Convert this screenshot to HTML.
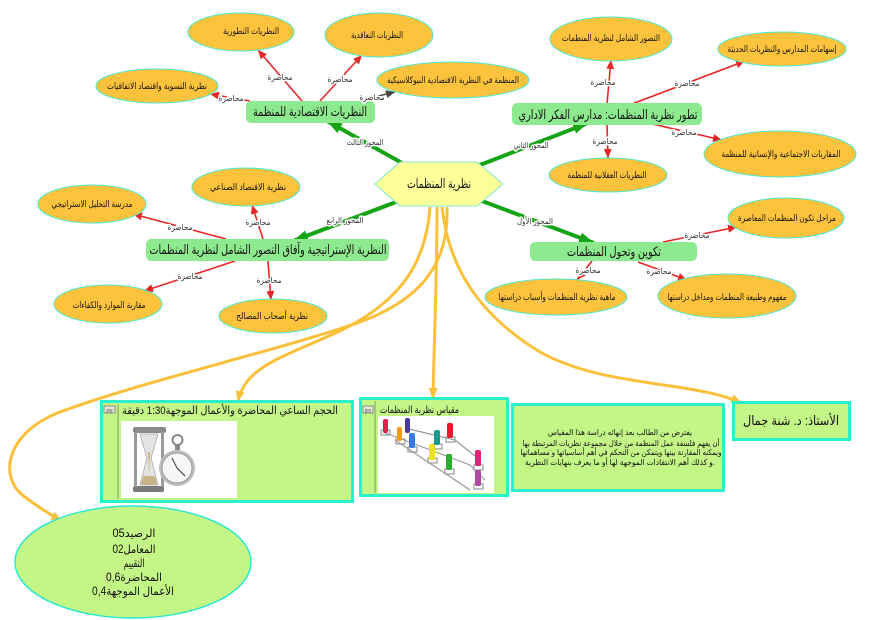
<!DOCTYPE html>
<html>
<head>
<meta charset="utf-8">
<style>
html,body{margin:0;padding:0;background:#fff;}
svg{display:block;}
text{font-family:"Liberation Sans","DejaVu Sans",sans-serif;}
.lbl{font-size:8px;fill:#333;stroke:#fff;stroke-width:3px;paint-order:stroke;stroke-linejoin:round;}
.ell{fill:#fdc33d;stroke:#4de8d0;stroke-width:1;}
.et{font-size:9px;fill:#111;}
.gb{fill:#8eea8e;}
.gt{font-size:13px;fill:#111;}
.red{stroke:#e82525;stroke-width:1.6;fill:none;}
.grn{stroke:#16a316;stroke-width:4;fill:none;}
.org{stroke:#fbc03a;stroke-width:3;fill:none;}
.bx{fill:#c3f587;stroke:#2cf0cc;stroke-width:3;}
</style>
</head>
<body>
<svg width="886" height="620" viewBox="0 0 886 620" xmlns="http://www.w3.org/2000/svg">
<defs>
<marker id="mr" markerUnits="userSpaceOnUse" markerWidth="9" markerHeight="8" refX="9" refY="4" orient="auto"><path d="M0,0 L9,4 L0,8 z" fill="#e82525"/></marker>
<marker id="md" markerUnits="userSpaceOnUse" markerWidth="9" markerHeight="8" refX="9" refY="4" orient="auto"><path d="M0,0 L9,4 L0,8 z" fill="#444"/></marker>
<marker id="mg" markerUnits="userSpaceOnUse" markerWidth="15" markerHeight="11" refX="15" refY="5.5" orient="auto"><path d="M0,0 L15,5.5 L0,11 z" fill="#16a316"/></marker>
<marker id="mo" markerUnits="userSpaceOnUse" markerWidth="11" markerHeight="9" refX="11" refY="4.5" orient="auto"><path d="M0,0 L11,4.5 L0,9 z" fill="#fbc03a"/></marker>
</defs>

<!-- orange curves -->
<path class="org" d="M447,207 C449,260 425,298 360,322 C280,350 140,382 60,412 C5,433 -2,478 25,497 Q42,510 62,521" marker-end="url(#mo)"/>
<path class="org" d="M430,207 C426,262 402,300 342,330 C282,358 245,366 238,402" marker-end="url(#mo)"/>
<path class="org" d="M437,207 C437,280 434,340 433,399" marker-end="url(#mo)"/>
<path class="org" d="M442,207 C448,262 474,312 540,352 C605,388 690,380 742,403" marker-end="url(#mo)"/>

<!-- green arrows -->
<line class="grn" x1="402" y1="163" x2="327" y2="121" marker-end="url(#mg)"/>
<line class="grn" x1="480" y1="165" x2="588" y2="123" marker-end="url(#mg)"/>
<line class="grn" x1="396" y1="202" x2="293" y2="241" marker-end="url(#mg)"/>
<line class="grn" x1="482" y1="201" x2="594" y2="243" marker-end="url(#mg)"/>

<!-- red arrows -->
<line class="red" x1="302" y1="101" x2="258" y2="50" marker-end="url(#mr)"/>
<line class="red" x1="320" y1="101" x2="362" y2="55" marker-end="url(#mr)"/>
<line class="red" x1="250" y1="101" x2="210" y2="94" marker-end="url(#mr)"/>
<line stroke="#444" stroke-width="1.4" x1="362" y1="100" x2="395" y2="92" marker-end="url(#md)"/>
<line class="red" x1="607" y1="104" x2="611" y2="60" marker-end="url(#mr)"/>
<line class="red" x1="632" y1="104" x2="745" y2="61" marker-end="url(#mr)"/>
<line class="red" x1="648" y1="123" x2="722" y2="140" marker-end="url(#mr)"/>
<line class="red" x1="607" y1="124" x2="608" y2="158" marker-end="url(#mr)"/>
<line class="red" x1="263" y1="239" x2="252" y2="205" marker-end="url(#mr)"/>
<line class="red" x1="226" y1="239" x2="133" y2="214" marker-end="url(#mr)"/>
<line class="red" x1="235" y1="261" x2="144" y2="291" marker-end="url(#mr)"/>
<line class="red" x1="268" y1="261" x2="271" y2="300" marker-end="url(#mr)"/>
<line class="red" x1="592" y1="261" x2="577" y2="280" marker-end="url(#mr)"/>
<line class="red" x1="638" y1="262" x2="687" y2="280" marker-end="url(#mr)"/>
<line class="red" x1="663" y1="242" x2="737" y2="227" marker-end="url(#mr)"/>

<!-- hexagon -->
<polygon points="375,184 400,162 477,162 503,184 477,206 400,206" fill="#ffff99" stroke="#7fe8d0" stroke-width="1"/>
<text x="439" y="188" text-anchor="middle" font-size="13" fill="#111" textLength="64" lengthAdjust="spacingAndGlyphs">نظرية المنظمات</text>

<!-- green nodes -->
<rect class="gb" x="246" y="101" width="129" height="22" rx="5"/>
<text class="gt" x="310" y="116" text-anchor="middle" font-size="12" textLength="114" lengthAdjust="spacingAndGlyphs">النظريات الاقتصادية للمنظمة</text>
<rect class="gb" x="512" y="103" width="190" height="22" rx="5"/>
<text class="gt" x="608" y="119" text-anchor="middle" direction="rtl" textLength="179" lengthAdjust="spacingAndGlyphs">تطور نظرية المنظمات: مدارس الفكر الاداري</text>
<rect class="gb" x="146" y="239" width="243" height="22" rx="5"/>
<text class="gt" x="268" y="254" text-anchor="middle" textLength="237" lengthAdjust="spacingAndGlyphs">النظرية الإستراتيجية وآفاق التصور الشامل لنظرية المنظمات</text>
<rect class="gb" x="530" y="242" width="167" height="19" rx="5"/>
<text class="gt" x="614" y="256" text-anchor="middle" textLength="94" lengthAdjust="spacingAndGlyphs">تكوين وتحول المنظمات</text>

<!-- orange ellipses -->
<ellipse class="ell" cx="241" cy="32" rx="53" ry="19"/>
<text class="et" x="251" y="34" text-anchor="middle" textLength="56" lengthAdjust="spacingAndGlyphs">النظريات التطورية</text>
<ellipse class="ell" cx="379" cy="35" rx="54" ry="22"/>
<text class="et" x="377" y="38" text-anchor="middle" textLength="52" lengthAdjust="spacingAndGlyphs">النظريات التعاقدية</text>
<ellipse class="ell" cx="157" cy="86" rx="61" ry="17"/>
<text class="et" x="157" y="89" text-anchor="middle" textLength="100" lengthAdjust="spacingAndGlyphs">نظرية التسوية واقتصاد الاتفاقيات</text>
<ellipse class="ell" cx="453" cy="80" rx="76" ry="18"/>
<text class="et" x="453" y="83" text-anchor="middle" textLength="132" lengthAdjust="spacingAndGlyphs">المنظمة في النظرية الاقتصادية النيوكلاسيكية</text>
<ellipse class="ell" cx="611" cy="39" rx="61" ry="22"/>
<text class="et" x="611" y="41" text-anchor="middle" textLength="98" lengthAdjust="spacingAndGlyphs">التصور الشامل لنظرية المنظمات</text>
<ellipse class="ell" cx="782" cy="49" rx="64" ry="17"/>
<text class="et" x="782" y="52" text-anchor="middle" textLength="109" lengthAdjust="spacingAndGlyphs">إسهامات المدارس والنظريات الحديثة</text>
<ellipse class="ell" cx="780" cy="154" rx="76" ry="23"/>
<text class="et" x="781" y="157" text-anchor="middle" textLength="119" lengthAdjust="spacingAndGlyphs">المقاربات الاجتماعية والإنسانية للمنظمة</text>
<ellipse class="ell" cx="608" cy="175" rx="59" ry="17"/>
<text class="et" x="607" y="178" text-anchor="middle" textLength="79" lengthAdjust="spacingAndGlyphs">النظريات العقلانية للمنظمة</text>
<ellipse class="ell" cx="246" cy="187" rx="54" ry="19"/>
<text class="et" x="248" y="190" text-anchor="middle" textLength="76" lengthAdjust="spacingAndGlyphs">نظرية الاقتصاد الصناعي</text>
<ellipse class="ell" cx="92" cy="204" rx="54" ry="19"/>
<text class="et" x="92" y="207" text-anchor="middle" textLength="81" lengthAdjust="spacingAndGlyphs">مدرسة التحليل الاستراتيجي</text>
<ellipse class="ell" cx="108" cy="304" rx="54" ry="19"/>
<text class="et" x="109" y="308" text-anchor="middle" textLength="73" lengthAdjust="spacingAndGlyphs">مقاربة الموارد والكفاءات</text>
<ellipse class="ell" cx="273" cy="316" rx="54" ry="17"/>
<text class="et" x="272" y="319" text-anchor="middle" textLength="72" lengthAdjust="spacingAndGlyphs">نظرية أصحاب المصالح</text>
<ellipse class="ell" cx="556" cy="297" rx="71" ry="18"/>
<text class="et" x="557" y="300" text-anchor="middle" textLength="117" lengthAdjust="spacingAndGlyphs">ماهية نظرية المنظمات وأسباب دراستها</text>
<ellipse class="ell" cx="727" cy="296" rx="69" ry="22"/>
<text class="et" x="727" y="300" text-anchor="middle" textLength="119" lengthAdjust="spacingAndGlyphs">مفهوم وطبيعة المنظمات ومداخل دراستها</text>
<ellipse class="ell" cx="786" cy="218" rx="58" ry="20"/>
<text class="et" x="787" y="221" text-anchor="middle" textLength="98" lengthAdjust="spacingAndGlyphs">مراحل تكون المنظمات المعاصرة</text>

<!-- connector labels -->
<g text-anchor="middle">
<text class="lbl" x="280" y="80" textLength="25" lengthAdjust="spacingAndGlyphs">محاضرة</text>
<text class="lbl" x="340" y="82" textLength="25" lengthAdjust="spacingAndGlyphs">محاضرة</text>
<text class="lbl" x="231" y="101" textLength="25" lengthAdjust="spacingAndGlyphs">محاضرة</text>
<text class="lbl" x="372" y="100" textLength="25" lengthAdjust="spacingAndGlyphs">محاضرة</text>
<text class="lbl" x="603" y="85" textLength="25" lengthAdjust="spacingAndGlyphs">محاضرة</text>
<text class="lbl" x="687" y="86" textLength="25" lengthAdjust="spacingAndGlyphs">محاضرة</text>
<text class="lbl" x="684" y="135" textLength="25" lengthAdjust="spacingAndGlyphs">محاضرة</text>
<text class="lbl" x="605" y="144" textLength="25" lengthAdjust="spacingAndGlyphs">محاضرة</text>
<text class="lbl" x="258" y="225" textLength="25" lengthAdjust="spacingAndGlyphs">محاضرة</text>
<text class="lbl" x="180" y="230" textLength="25" lengthAdjust="spacingAndGlyphs">محاضرة</text>
<text class="lbl" x="190" y="279" textLength="25" lengthAdjust="spacingAndGlyphs">محاضرة</text>
<text class="lbl" x="269" y="283" textLength="25" lengthAdjust="spacingAndGlyphs">محاضرة</text>
<text class="lbl" x="588" y="273" textLength="25" lengthAdjust="spacingAndGlyphs">محاضرة</text>
<text class="lbl" x="659" y="274" textLength="25" lengthAdjust="spacingAndGlyphs">محاضرة</text>
<text class="lbl" x="697" y="238" textLength="25" lengthAdjust="spacingAndGlyphs">محاضرة</text>
<text class="lbl" x="365" y="145" textLength="37" lengthAdjust="spacingAndGlyphs">المحور الثالث</text>
<text class="lbl" x="531" y="148" textLength="35" lengthAdjust="spacingAndGlyphs">المحور الثاني</text>
<text class="lbl" x="345" y="223" textLength="37" lengthAdjust="spacingAndGlyphs">المحور الرابع</text>
<text class="lbl" x="535" y="224" textLength="36" lengthAdjust="spacingAndGlyphs">المحور الأول</text>
</g>

<!-- Box A -->
<rect class="bx" x="101.5" y="401.5" width="251" height="100"/>
<line x1="118" y1="404" x2="118" y2="499" stroke="#7f9a60" stroke-width="1"/>
<rect x="104" y="406" width="11" height="7" fill="#e8e8d8" stroke="#777" stroke-width="0.8"/>
<text x="109.5" y="411.5" text-anchor="middle" font-size="4.5" fill="#444">jpg</text>
<text x="338" y="414" text-anchor="start" direction="rtl" font-size="11" fill="#111" textLength="216" lengthAdjust="spacingAndGlyphs">الحجم الساعي المحاضرة والأعمال الموجهة1:30 دقيقة</text>
<rect x="121" y="421" width="116" height="77" fill="#fff"/>
<!-- hourglass -->
<rect x="133" y="427" width="33" height="6" rx="2" fill="#8a8a8a"/>
<rect x="133" y="486" width="31" height="6" rx="2" fill="#7a7a7a"/>
<rect x="134" y="432" width="3" height="55" fill="#9a9a9a"/>
<rect x="161" y="432" width="3" height="55" fill="#9a9a9a"/>
<path d="M140,434 L158,434 L151,458 L158,485 L140,485 L147,458 z" fill="#e4e4e4" stroke="#aaa" stroke-width="0.8"/>
<path d="M143,476 L155,476 L157,485 L141,485 z" fill="#c9b48a"/>
<path d="M148,452 L150,452 L149,476 z" fill="#c9b48a"/>
<!-- stopwatch -->
<circle cx="177.5" cy="440" r="5" fill="none" stroke="#888" stroke-width="2"/>
<rect x="175" y="444" width="5" height="6" fill="#888"/>
<circle cx="177" cy="468" r="18" fill="#bdbdbd"/>
<circle cx="177" cy="468" r="15" fill="#f7f7f7" stroke="#999" stroke-width="1"/>
<line x1="177" y1="468" x2="172" y2="458" stroke="#333" stroke-width="1"/>
<line x1="177" y1="468" x2="185" y2="476" stroke="#333" stroke-width="1"/>

<!-- Box B -->
<rect class="bx" x="360.5" y="398.5" width="147" height="97"/>
<line x1="375" y1="401" x2="375" y2="493" stroke="#7f9a60" stroke-width="1"/>
<rect x="363" y="406" width="10" height="7" fill="#e8e8d8" stroke="#777" stroke-width="0.8"/>
<text x="368" y="411.5" text-anchor="middle" font-size="4.5" fill="#444">jpg</text>
<text x="459" y="413" text-anchor="start" direction="rtl" font-size="10" fill="#111" textLength="79" lengthAdjust="spacingAndGlyphs">مقياس نظرية المنظمات</text>
<rect x="378" y="416" width="116" height="77" fill="#fff"/>
<g stroke="#9a9a9a" stroke-width="1.2" fill="none">
<path d="M383,432 L470,465 L485,480"/>
<path d="M395,440 L440,470 L470,490"/>
<path d="M405,428 L455,440 L480,460"/>
<rect x="381" y="430" width="9" height="5"/>
<rect x="396" y="439" width="9" height="5"/>
<rect x="408" y="447" width="9" height="5"/>
<rect x="433" y="444" width="9" height="5"/>
<rect x="446" y="437" width="9" height="5"/>
<rect x="428" y="458" width="9" height="5"/>
<rect x="445" y="469" width="9" height="5"/>
<rect x="474" y="465" width="9" height="5"/>
<rect x="474" y="484" width="9" height="5"/>
</g>
<g>
<rect x="383" y="419" width="5" height="14" rx="2" fill="#e8204a"/>
<rect x="397" y="427" width="5" height="14" rx="2" fill="#f39a1a"/>
<rect x="405" y="418" width="5" height="15" rx="2" fill="#4a3a9a"/>
<rect x="409" y="433" width="6" height="15" rx="2" fill="#3a7ae0"/>
<rect x="434" y="430" width="6" height="15" rx="2" fill="#1a9a8a"/>
<rect x="447" y="423" width="6" height="15" rx="2" fill="#e01a2a"/>
<rect x="429" y="444" width="6" height="16" rx="2" fill="#f0e020"/>
<rect x="446" y="454" width="6" height="16" rx="2" fill="#28b02a"/>
<rect x="475" y="450" width="6" height="16" rx="2" fill="#e8207a"/>
<rect x="475" y="470" width="6" height="16" rx="2" fill="#b04aa0"/>
</g>

<!-- Box C -->
<rect class="bx" x="512.5" y="404.5" width="211" height="86"/>
<g font-size="8" fill="#111" text-anchor="middle" direction="rtl">
<text x="620" y="435" textLength="144" lengthAdjust="spacingAndGlyphs">يفترض من الطالب بعد إنهائه دراسة هذا المقياس</text>
<text x="621" y="446" textLength="197" lengthAdjust="spacingAndGlyphs">أن يفهم فلسفة عمل المنظمة من خلال مجموعة نظريات المرتبطة بها</text>
<text x="621" y="455" textLength="201" lengthAdjust="spacingAndGlyphs">ويمكنه المقارنة بينها ويتمكن من التحكم في أهم أساسياتها و مساهماتها</text>
<text x="620" y="465" textLength="190" lengthAdjust="spacingAndGlyphs">.و كذلك  أهم الانتقادات الموجهة لها أو ما يعرف بنهايات النظرية</text>
</g>

<!-- Box D -->
<rect class="bx" x="733.5" y="402.5" width="116" height="37"/>
<text x="791" y="425" text-anchor="middle" direction="rtl" font-size="13" fill="#111" textLength="96" lengthAdjust="spacingAndGlyphs">الأستاذ: د. شنة جمال</text>

<!-- bottom ellipse -->
<ellipse cx="133" cy="562" rx="118" ry="56" fill="#c3f587" stroke="#2ce8d0" stroke-width="1.5"/>
<g font-size="11.5" fill="#111" text-anchor="middle" direction="rtl">
<text x="134" y="537" textLength="43" lengthAdjust="spacingAndGlyphs">الرصيد05</text>
<text x="134" y="553" textLength="43" lengthAdjust="spacingAndGlyphs">المعامل02</text>
<text x="134" y="567" textLength="21" lengthAdjust="spacingAndGlyphs">التقييم</text>
<text x="134" y="581" textLength="56" lengthAdjust="spacingAndGlyphs">المحاضرة0,6</text>
<text x="133" y="595" textLength="82" lengthAdjust="spacingAndGlyphs">الأعمال الموجهة0,4</text>
</g>
</svg>
</body>
</html>
